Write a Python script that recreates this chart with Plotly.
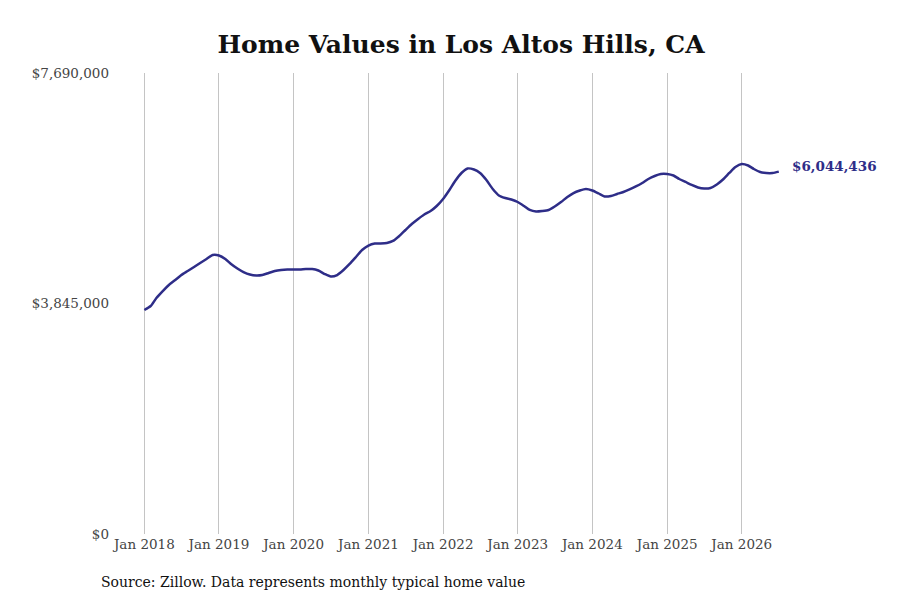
import plotly.graph_objects as go
import pandas as pd

# monthly typical home value, Jan 2018 - Jul 2026
months = pd.date_range("2018-01-01", "2026-07-01", freq="MS")
values = [
    3737000, 3803000, 3937000, 4053000, 4154000, 4237000, 4320000, 4387000, 4454000, 4521000, 4587000, 4654000,
    4646000, 4587000, 4504000, 4429000, 4370000, 4329000, 4312000, 4320000, 4354000, 4387000, 4404000, 4412000,
    4412000, 4412000, 4420000, 4420000, 4395000, 4337000, 4295000, 4320000, 4404000, 4504000, 4621000, 4737000,
    4812000, 4846000, 4846000, 4854000, 4888000, 4971000, 5071000, 5171000, 5255000, 5330000, 5388000, 5471000,
    5588000, 5738000, 5888000, 6022000, 6097000, 6080000, 6022000, 5905000, 5755000, 5647000, 5605000, 5580000,
    5538000, 5471000, 5405000, 5380000, 5388000, 5405000, 5463000, 5538000, 5621000, 5688000, 5730000, 5755000,
    5730000, 5680000, 5630000, 5638000, 5672000, 5705000, 5747000, 5797000, 5855000, 5922000, 5972000, 6005000,
    6005000, 5980000, 5922000, 5872000, 5822000, 5780000, 5763000, 5772000, 5830000, 5913000, 6022000, 6122000,
    6172000, 6147000, 6089000, 6039000, 6022000, 6022000, 6044436,
]

ytick_vals = [0, 3845000, 7690000]
ytick_text = ["$0", "$3,845,000", "$7,690,000"]
xtick_vals = pd.date_range("2018-01-01", "2026-01-01", freq="YS")
xtick_text = [f"Jan {d.year}" for d in xtick_vals]

line_color = "#2e2d88"
serif = "DejaVu Serif"

ML, MR, MT, MB = 102, 28, 65, 74
W, H = 900, 600
plot_w = W - ML - MR
plot_h = H - MT - MB

fig = go.Figure()
fig.add_trace(go.Scatter(
    x=months, y=values, mode="lines",
    line=dict(color=line_color, width=2.5, shape="spline", smoothing=0.6),
    hoverinfo="x+y", showlegend=False,
))

fig.add_annotation(
    x=months[-1], y=values[-1], text=f"<b>${values[-1]:,}</b>",
    showarrow=False, xanchor="left", xshift=11, yshift=6,
    font=dict(family=serif, size=13.5, color=line_color),
)

fig.add_annotation(
    x=(91 - ML) / plot_w, y=(H - MB - 574) / plot_h, xref="paper", yref="paper",
    text="Source: Zillow. Data represents monthly typical home value",
    showarrow=False, xanchor="left", yanchor="middle",
    font=dict(family=serif, size=14, color="#111111"),
)

fig.update_layout(
    width=W, height=H,
    margin=dict(l=ML, r=MR, t=MT, b=MB),
    paper_bgcolor="white", plot_bgcolor="white",
    font=dict(family=serif, size=13.5, color="#444444"),
    title=dict(
        text="<b>Home Values in Los Altos Hills, CA</b>",
        x=453 / W, xanchor="center", y=1 - 36 / H, yanchor="middle",
        font=dict(family=serif, size=25, color="#111111"),
    ),
)

fig.update_xaxes(
    range=["2017-07-17", "2027-11-08"],
    tickvals=xtick_vals, ticktext=xtick_text,
    showgrid=True, gridcolor="#c4c4c4", gridwidth=1,
    zeroline=False, showline=False, ticks="",
    tickfont=dict(family=serif, size=13.5, color="#444444"),
)
fig.update_yaxes(
    range=[0, 7690000],
    tickvals=ytick_vals, ticktext=ytick_text,
    showgrid=False, zeroline=False, showline=False, ticks="",
    tickfont=dict(family=serif, size=13.5, color="#444444"),
)

fig.write_html("out.html")
